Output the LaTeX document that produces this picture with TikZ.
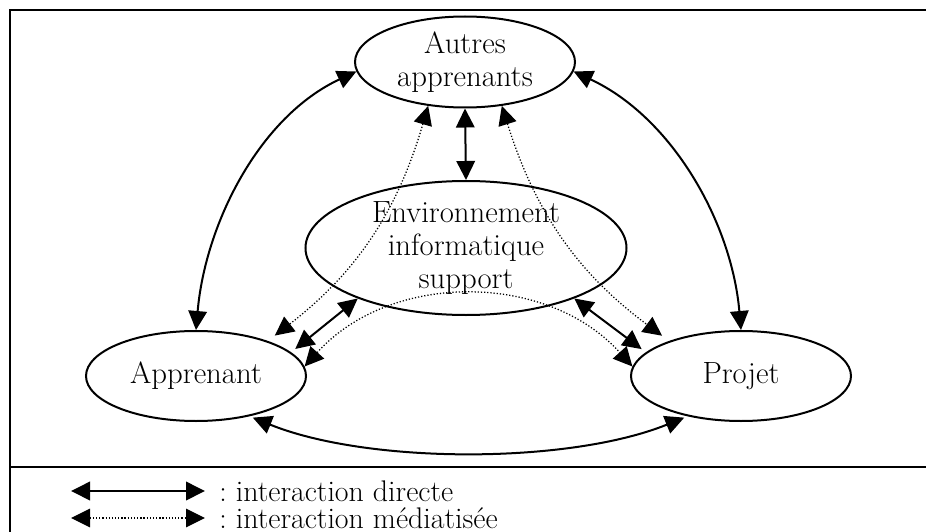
\documentclass[tikz,border=0pt]{standalone}
\usetikzlibrary{arrows.meta,shapes.geometric}

\tikzset{
  bulle/.style={draw, ellipse, line width=0.4mm, inner sep=0pt, align=center,
    font=\fontsize{17.5}{18.8}\selectfont},
  pointe/.style={{Triangle[length=3.8mm,width=3.7mm]}-{Triangle[length=3.8mm,width=3.7mm]}},
  direct/.style={pointe, line width=0.4mm},
  mediat/.style={pointe, line width=0.25mm, dash pattern=on 0.7pt off 1.1pt},
  legende/.style={anchor=west, inner sep=0pt, font=\fontsize{17}{18}\selectfont\frenchspacing},
}

\begin{document}
\begin{tikzpicture}[x=0.2mm,y=-0.2mm]
                    \useasboundingbox (0,0) rectangle (926,532);

                    % Drawing frame and separator
                    \draw [line width=0.4mm] (926,10) -- (10,10) -- (10,532);%
                    \draw [line width=0.4mm] (10,467) -- (926,467);%

                    % Drawing ellipse Autres apprenants
                    \node [bulle, minimum width=44mm, minimum height=18.2mm] (aut) at (465,62) {Autres\\apprenants};%

                    % Drawing ellipse Environnement informatique support
                    \node [bulle, minimum width=64.2mm, minimum height=26.8mm] (env) at (466,248) {Environnement\\informatique\\support};%

                    % Drawing ellipse Apprenant
                    \node [bulle, minimum width=44mm, minimum height=18mm] (app) at (196,376) {Apprenant};%

                    % Drawing ellipse Projet
                    \node [bulle, minimum width=44mm, minimum height=18mm] (pro) at (741,376) {Projet};%

                    % Drawing arrow Apprenant Autres
                    \draw [direct] (app.north) to [out=85,in=205,looseness=0.9] (aut.185);%

                    % Drawing arrow Autres Projet
                    \draw [direct] (aut.355) to [out=-25,in=95,looseness=0.9] (pro.north);%

                    % Drawing arrow Autres Environnement
                    \draw [direct] (aut.south) -- (env.north);%

                    % Drawing arrow Apprenant Projet
                    \draw [direct, shorten <=2pt, shorten >=2pt] (app.-37) to [out=-22,in=202,looseness=0.75] (pro.217);%

                    % Drawing arrow Apprenant Environnement
                    \draw [direct, shorten <=3pt] (app.14) -- (env.205);%

                    % Drawing arrow Environnement Projet
                    \draw [direct, shorten >=3pt] (env.335) -- (pro.166);%

                    % Drawing mediated arrow Autres Apprenant
                    \draw [mediat, shorten >=5pt] (aut.230) to [bend left=18] (app.26);%

                    % Drawing mediated arrow Autres Projet
                    \draw [mediat, shorten >=5pt] (aut.310) to [bend right=18] (pro.154);%

                    % Drawing mediated arrow Apprenant Projet
                    \draw [mediat] (app.5) to [out=48,in=132] (pro.175);%

                    % Marking legend
                    \node [legende] (ldir) at (219,491) {: interaction directe};%
                    \node [legende] (lmed) at (219,518) {: interaction médiatisée};%
                    \coordinate (ldirA) at (71,491);%
                    \coordinate (lmedA) at (71,518);%
                    \draw [direct] (ldirA) -- ([xshift=-2.8mm]ldir.west);%
                    \draw [mediat] (lmedA) -- ([xshift=-2.8mm]lmed.west);%
\end{tikzpicture}
\end{document}
